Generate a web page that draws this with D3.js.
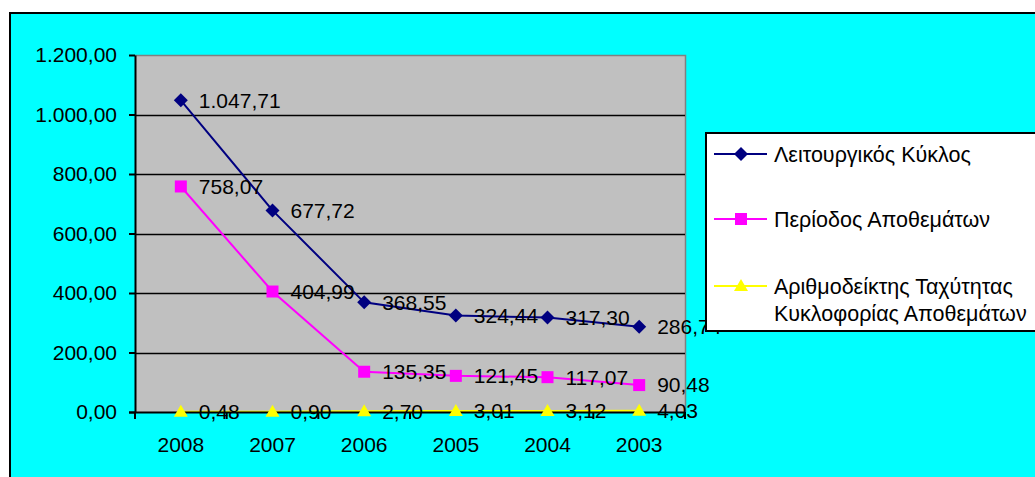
<!DOCTYPE html>
<html>
<head>
<meta charset="utf-8">
<script src="https://cdn.jsdelivr.net/npm/d3@7"></script>
<style>
  html, body { margin: 0; padding: 0; background: #ffffff; }
  svg { display: block; }
  text { font-family: "Liberation Sans", Arial, sans-serif; fill: #000; }
</style>
</head>
<body>
<svg id="chart" width="1035" height="477"></svg>
<script>
// Years shown on the category axis
const years = ["2008", "2007", "2006", "2005", "2004", "2003"];

// Series values (days / ratio)
const operatingCycle = [1047.71, 677.72, 368.55, 324.44, 317.30, 286.74];
const inventoryPeriod = [758.07, 404.99, 135.35, 121.45, 117.07, 90.48];
const inventoryTurnover = [0.48, 0.90, 2.70, 3.01, 3.12, 4.03];

// Value axis ticks
const yTicks = [0, 200, 400, 600, 800, 1000, 1200];

const seriesNames = [
  ["Λειτουργικός Κύκλος"],
  ["Περίοδος Αποθεμάτων"],
  ["Αριθμοδείκτης Ταχύτητας", "Κυκλοφορίας Αποθεμάτων"]
];

const series = [
  { name: seriesNames[0], values: operatingCycle, color: "#000080", marker: "diamond" },
  { name: seriesNames[1], values: inventoryPeriod, color: "#FF00FF", marker: "square" },
  { name: seriesNames[2], values: inventoryTurnover, color: "#FFFF00", marker: "triangle" }
];

const svg = d3.select("#chart");
const plot = { left: 135, right: 685, top: 55, bottom: 412 };
const numFont = 21;
const legendFont = 21.5;

// Greek number formatting: "." thousands, "," decimals
const locale = d3.formatLocale({ decimal: ",", thousands: ".", grouping: [3], currency: ["", "€"] });
const fmt = locale.format(",.2f");

const x = d3.scalePoint().domain(years).range([plot.left, plot.right]).padding(0.5);
const xBand = d3.scaleBand().domain(years).range([plot.left, plot.right]);
const y = d3.scaleLinear().domain([0, 1200]).range([plot.bottom, plot.top]);

// Chart frame
svg.append("rect").attr("x", 10).attr("y", 13).attr("width", 1040).attr("height", 480)
  .attr("fill", "#00FFFF").attr("stroke", "#000").attr("stroke-width", 2);

// Plot area
svg.append("rect").attr("x", plot.left).attr("y", plot.top)
  .attr("width", plot.right - plot.left).attr("height", plot.bottom - plot.top)
  .attr("fill", "#C0C0C0");
svg.append("path")
  .attr("d", `M${plot.left},${plot.top + 0.5}H${plot.right + 0.5}V${plot.bottom}`)
  .attr("fill", "none").attr("stroke", "#808080").attr("stroke-width", 1.5);

// Horizontal gridlines
svg.append("g").selectAll("line").data(yTicks.filter(d => d > 0 && d < 1200)).join("line")
  .attr("x1", plot.left).attr("x2", plot.right)
  .attr("y1", d => Math.round(y(d)) + 0.5).attr("y2", d => Math.round(y(d)) + 0.5)
  .attr("stroke", "#000").attr("stroke-width", 1.5);

// Lines
const line = d3.line().x((d, i) => x(years[i])).y(d => y(d));
series.forEach(s => {
  svg.append("path").datum(s.values).attr("d", line)
    .attr("fill", "none").attr("stroke", s.color).attr("stroke-width", 2);
});

// Value axis
const yAxis = d3.axisLeft(y).tickValues(yTicks).tickSize(6).tickSizeOuter(0).tickPadding(12)
  .tickFormat(fmt);
const gy = svg.append("g").attr("transform", `translate(${plot.left},0)`).call(yAxis);
gy.select(".domain").attr("stroke", "#000").attr("stroke-width", 2);
gy.selectAll(".tick line").attr("stroke", "#000").attr("stroke-width", 2);
gy.selectAll(".tick text").attr("font-size", numFont).attr("font-family", "Liberation Sans, Arial, sans-serif")
  .attr("fill", "#000");

// Category axis
const gx = svg.append("g");
gx.append("line").attr("x1", plot.left - 6).attr("x2", plot.right)
  .attr("y1", plot.bottom + 0.5).attr("y2", plot.bottom + 0.5)
  .attr("stroke", "#000").attr("stroke-width", 2);
const bounds = years.map(d => xBand(d)).concat([plot.right]);
gx.selectAll("line.tk").data(bounds).join("line").attr("class", "tk")
  .attr("x1", d => d).attr("x2", d => d)
  .attr("y1", plot.bottom).attr("y2", plot.bottom + 7)
  .attr("stroke", "#000").attr("stroke-width", 2);
gx.selectAll("text").data(years).join("text")
  .attr("x", d => x(d)).attr("y", 445).attr("dy", "0.35em")
  .attr("text-anchor", "middle").attr("font-size", numFont).text(d => d);

// Marker shapes
function marker(g, type, color, cx, cy) {
  if (type === "diamond") {
    g.append("path").attr("d", `M${cx},${cy - 7}L${cx + 7},${cy}L${cx},${cy + 7}L${cx - 7},${cy}Z`)
      .attr("fill", color);
  } else if (type === "square") {
    g.append("rect").attr("x", cx - 6).attr("y", cy - 6).attr("width", 12).attr("height", 12)
      .attr("fill", color);
  } else {
    g.append("path").attr("d", `M${cx},${cy - 7}L${cx + 7},${cy + 5}L${cx - 7},${cy + 5}Z`)
      .attr("fill", color);
  }
}

// Markers and data labels
series.forEach(s => {
  const g = svg.append("g");
  s.values.forEach((v, i) => marker(g, s.marker, s.color, x(years[i]), y(v)));
});
series.forEach(s => {
  svg.append("g").selectAll("text").data(s.values).join("text")
    .attr("x", (d, i) => x(years[i]) + 18).attr("y", d => y(d)).attr("dy", "0.35em")
    .attr("font-size", numFont).text(d => fmt(d));
});

// Legend
const lg = svg.append("g");
lg.append("rect").attr("x", 706).attr("y", 133).attr("width", 340).attr("height", 198)
  .attr("fill", "#fff").attr("stroke", "#000").attr("stroke-width", 2);
const legendY = [154, 219, 286];
series.forEach((s, i) => {
  const ly = legendY[i];
  lg.append("line").attr("x1", 714).attr("x2", 767).attr("y1", ly).attr("y2", ly)
    .attr("stroke", s.color).attr("stroke-width", 2);
  marker(lg, s.marker, s.color, 741, ly);
  s.name.forEach((t, j) => {
    lg.append("text").attr("x", 774).attr("y", ly + j * 27).attr("dy", "0.35em")
      .attr("font-size", legendFont).text(t);
  });
});
</script>
</body>
</html>
